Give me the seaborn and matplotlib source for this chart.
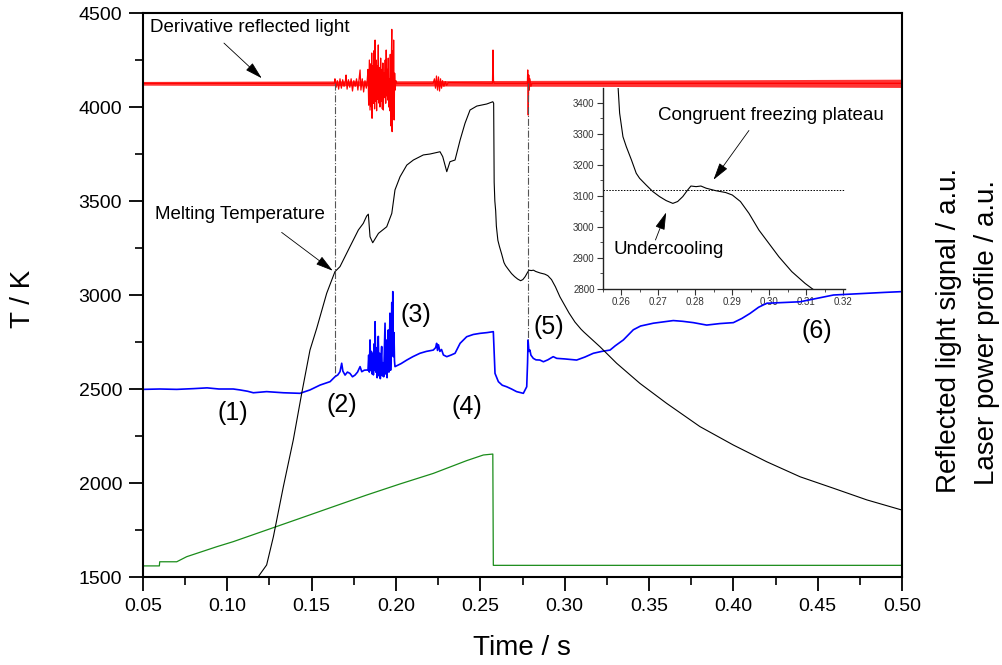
import matplotlib
matplotlib.use("Agg")
import matplotlib.pyplot as plt
import seaborn as sns
import pandas as pd
import numpy as np
from matplotlib.ticker import MultipleLocator, FormatStrFormatter

sns.set_theme(style="white")
plt.rcParams['font.family'] = ['Liberation Sans', 'DejaVu Sans']
plt.rcParams['text.color'] = 'black'

# ---------------- data ----------------
temp_t = [0.1182, 0.1233, 0.1273, 0.1332, 0.1391, 0.1441, 0.1490, 0.1530, 0.1589, 0.1638,
          0.1668, 0.1727, 0.1777, 0.1806, 0.1826, 0.1836, 0.1846, 0.1862, 0.1896, 0.1945,
          0.1975, 0.1994, 0.2024, 0.2064, 0.2103, 0.2162, 0.2202, 0.2261, 0.2277, 0.2301,
          0.2320, 0.2350, 0.2380, 0.2409, 0.2439, 0.2479, 0.2538, 0.2574, 0.2579, 0.2582,
          0.2586, 0.2591, 0.2595, 0.2604, 0.2613, 0.2627, 0.2640, 0.2649, 0.2667, 0.2685,
          0.2703, 0.2721, 0.2739, 0.2752, 0.2766, 0.2779, 0.2788, 0.2802, 0.2815, 0.2829,
          0.2855, 0.2882, 0.2900, 0.2922, 0.2945, 0.2972, 0.2999, 0.3026, 0.3061, 0.3097,
          0.3115, 0.3209, 0.3308, 0.3446, 0.3604, 0.3802, 0.4000, 0.4198, 0.4396, 0.4594,
          0.4792, 0.5000]
temp_K = [1500, 1564, 1714, 1980, 2229, 2477, 2707, 2823, 3009, 3124,
          3151, 3257, 3346, 3381, 3420, 3430, 3310, 3278, 3328, 3363,
          3434, 3559, 3629, 3691, 3718, 3745, 3750, 3762, 3736, 3656,
          3709, 3718, 3824, 3913, 3984, 4005, 4016, 4028, 4020, 3600,
          3500, 3447, 3367, 3291, 3259, 3216, 3173, 3157, 3135, 3114,
          3098, 3085, 3076, 3082, 3098, 3119, 3132, 3130, 3132, 3125,
          3117, 3111, 3103, 3082, 3044, 2990, 2947, 2904, 2856, 2818,
          2802, 2725, 2637, 2530, 2424, 2300, 2202, 2113, 2033, 1972,
          1910, 1856]

refl_t = [0.050, 0.060, 0.070, 0.080, 0.088, 0.095, 0.1035, 0.1075, 0.1120, 0.1154,
          0.1233, 0.1332, 0.1431, 0.1490, 0.1550, 0.1609, 0.1638, 0.1655, 0.1668, 0.1678,
          0.1685, 0.1698, 0.1712, 0.1727, 0.1742, 0.1757, 0.1772, 0.1787, 0.1797, 0.1812,
          0.1826, 0.1834, 0.1838, 0.1842, 0.1846, 0.1850, 0.1854, 0.1858, 0.1862, 0.1866,
          0.1870, 0.1874, 0.1876, 0.1880, 0.1884, 0.1888, 0.1892, 0.1895, 0.1899, 0.1903,
          0.1907, 0.1911, 0.1915, 0.1919, 0.1923, 0.1927, 0.1931, 0.1935, 0.1939, 0.1943,
          0.1947, 0.1951, 0.1954, 0.1958, 0.1961, 0.1964, 0.1968, 0.1972, 0.1975, 0.1978,
          0.1981, 0.1984, 0.1988, 0.1991, 0.1994, 0.2030, 0.2064, 0.2100, 0.2142, 0.2180,
          0.2221, 0.2235, 0.2241, 0.2246, 0.2252, 0.2260, 0.2270, 0.2281, 0.2301, 0.2325,
          0.2350, 0.2380, 0.2419, 0.2458, 0.2498, 0.2540, 0.2577, 0.2582, 0.2587, 0.2607,
          0.2630, 0.2656, 0.2685, 0.2715, 0.2755, 0.2775, 0.2780, 0.2783, 0.2788, 0.2794,
          0.2800, 0.2814, 0.2830, 0.2853, 0.2874, 0.2900, 0.2932, 0.2953, 0.3000, 0.3071,
          0.3120, 0.3170, 0.3220, 0.3269, 0.3300, 0.3348, 0.3407, 0.3450, 0.3526, 0.3644,
          0.3700, 0.3763, 0.3842, 0.3920, 0.4000, 0.4050, 0.4099, 0.4150, 0.4198, 0.4300,
          0.4396, 0.4495, 0.4594, 0.4700, 0.4792, 0.4900, 0.5000]
refl_v = [2498, 2500, 2498, 2502, 2506, 2500, 2500, 2495, 2488, 2480,
          2486, 2480, 2477, 2495, 2521, 2539, 2565, 2575, 2592, 2637,
          2595, 2574, 2590, 2583, 2565, 2574, 2590, 2619, 2592, 2600,
          2601, 2600, 2680, 2590, 2761, 2600, 2700, 2580, 2690, 2575,
          2740, 2600, 2858, 2590, 2720, 2560, 2700, 2780, 2570, 2690,
          2555, 2660, 2726, 2570, 2640, 2565, 2700, 2850, 2580, 2760,
          2560, 2680, 2814, 2590, 2700, 2903, 2600, 2720, 2960, 2700,
          3018, 2672, 2800, 2650, 2619, 2635, 2654, 2672, 2690, 2700,
          2707, 2720, 2743, 2705, 2735, 2700, 2710, 2681, 2672, 2680,
          2690, 2743, 2778, 2790, 2796, 2800, 2805, 2700, 2583, 2539,
          2520, 2512, 2500, 2486, 2477, 2512, 2640, 2761, 2700, 2707,
          2680, 2663, 2655, 2654, 2645, 2655, 2672, 2663, 2660, 2654,
          2670, 2690, 2700, 2707, 2730, 2761, 2815, 2835, 2850, 2864,
          2860, 2853, 2840, 2848, 2853, 2875, 2902, 2935, 2956, 2960,
          2964, 2982, 3000, 3005, 3009, 3014, 3018]

laser_t = [0.050, 0.0597, 0.0599, 0.0700, 0.0759, 0.0937, 0.1035, 0.1233, 0.1431, 0.1628,
           0.1826, 0.2024, 0.2221, 0.2419, 0.2518, 0.2574, 0.2577, 0.5000]
laser_v = [1559, 1559, 1581, 1581, 1608, 1661, 1688, 1750, 1812, 1874,
           1936, 1995, 2051, 2119, 2149, 2154, 1562, 1562]

deriv_t = [0.050, 0.1635, 0.1638, 0.1645, 0.1652, 0.1660, 0.1668, 0.1676, 0.1684, 0.1692,
           0.1700, 0.1704, 0.1710, 0.1718, 0.1726, 0.1734, 0.1742, 0.1750, 0.1758, 0.1766,
           0.1774, 0.1780, 0.1787, 0.1792, 0.1800, 0.1808, 0.1816, 0.1824, 0.1830, 0.1834,
           0.1838, 0.1842, 0.1846, 0.1850, 0.1854, 0.1856, 0.1858, 0.1862, 0.1866, 0.1870,
           0.1873, 0.1876, 0.1879, 0.1882, 0.1885, 0.1888, 0.1891, 0.1895, 0.1898, 0.1902,
           0.1905, 0.1909, 0.1912, 0.1916, 0.1919, 0.1922, 0.1925, 0.1929, 0.1932, 0.1936,
           0.1939, 0.1942, 0.1945, 0.1948, 0.1951, 0.1954, 0.1957, 0.1960, 0.1963, 0.1966,
           0.1969, 0.1972, 0.1975, 0.1977, 0.1980, 0.1983, 0.1986, 0.1989, 0.1992, 0.1995,
           0.1999, 0.2005, 0.2220, 0.2228, 0.2234, 0.2240, 0.2246, 0.2252, 0.2258, 0.2264,
           0.2270, 0.2276, 0.2284, 0.2292, 0.2300, 0.2310, 0.2572, 0.2575, 0.2578, 0.2582,
           0.2779, 0.2781, 0.2784, 0.2787, 0.2790, 0.2794, 0.2800, 0.2806, 0.5000]
deriv_v = [4126, 4126, 4150, 4105, 4140, 4095, 4150, 4100, 4145, 4110,
           4140, 4170, 4095, 4145, 4105, 4150, 4085, 4140, 4110, 4150,
           4090, 4140, 4197, 4090, 4150, 4080, 4140, 4100, 4150, 4200,
           4010, 4250, 3984, 4230, 4000, 4287, 3940, 4220, 4020, 4300,
           3990, 4356, 4030, 4250, 3980, 4220, 4040, 4330, 4021, 4210,
           4000, 4260, 4030, 4200, 3990, 4234, 3984, 4180, 4050, 4250,
           4020, 4303, 4060, 4200, 4037, 4260, 4000, 4150, 3980, 4280,
           3900, 4200, 4413, 3869, 4300, 3950, 4356, 3931, 4180, 4090,
           4140, 4126, 4126, 4150, 4100, 4165, 4090, 4160, 4085, 4150,
           4100, 4140, 4110, 4135, 4115, 4130, 4126, 4303, 4140, 4126,
           4126, 4197, 3957, 4170, 4090, 4150, 4110, 4126, 4126]
# noise band half-width of the derivative trace
band_t = [0.05, 0.30, 0.50]
band_hw = [10, 16, 22]

freeze_T = 3120
melt_t = 0.1638
freeze_t = 0.2784

labels = ["(1)", "(2)", "(3)", "(4)", "(5)", "(6)"]
label_t = [0.1034, 0.1680, 0.2119, 0.2420, 0.2907, 0.4495]
label_T = [2372, 2415, 2894, 2404, 2829, 2809]

# ---------------- figure ----------------
W, H = 1003, 665
fig = plt.figure(figsize=(W / 100, H / 100), dpi=100)
fig.patch.set_facecolor("white")
ax = fig.add_axes([143 / W, 1 - 577 / H, 759 / W, 564 / H])
ins = fig.add_axes([603 / W, 1 - 289 / H, 242 / W, 201 / H])
ax.set_zorder(2)
ins.set_zorder(1)
ax.patch.set_alpha(0)
ins.patch.set_alpha(0)

df_T = pd.DataFrame({"t": temp_t, "T": temp_K})
df_R = pd.DataFrame({"t": refl_t, "v": refl_v})
df_L = pd.DataFrame({"t": laser_t, "v": laser_v})
df_D = pd.DataFrame({"t": deriv_t, "v": deriv_v})

bt = np.array(band_t); bh = np.array(band_hw)
ax.fill_between(bt, 4126 - bh, 4126 + bh, color="#ff1010", alpha=0.85, lw=0)
sns.lineplot(data=df_D, x="t", y="v", ax=ax, color="#ff0000", lw=0.9,
             estimator=None, sort=False)
sns.lineplot(data=df_L, x="t", y="v", ax=ax, color="#1a8c1a", lw=0.9,
             estimator=None, sort=False)
sns.lineplot(data=df_R, x="t", y="v", ax=ax, color="#0000ff", lw=1.2,
             estimator=None, sort=False)
sns.lineplot(data=df_T, x="t", y="T", ax=ax, color="black", lw=0.8,
             estimator=None, sort=False)

ax.plot([melt_t, melt_t], [4126, 2565], color="#555555", lw=0.8, ls="-.")
ax.plot([freeze_t, freeze_t], [4126, 2761], color="#555555", lw=0.8, ls="-.")

ax.set_xlim(0.05, 0.50)
ax.set_ylim(1500, 4500)
ax.set_xlabel("")
ax.set_ylabel("")
ax.xaxis.set_major_locator(MultipleLocator(0.05))
ax.xaxis.set_minor_locator(MultipleLocator(0.025))
ax.xaxis.set_major_formatter(FormatStrFormatter("%.2f"))
ax.yaxis.set_major_locator(MultipleLocator(500))
ax.yaxis.set_minor_locator(MultipleLocator(250))
ax.tick_params(which="major", direction="out", length=10, width=1.3,
               labelsize=14, pad=5, colors="black", bottom=True, left=True)
ax.tick_params(which="minor", direction="out", length=6, width=1.2,
               bottom=True, left=True, colors="black")
for s in ax.spines.values():
    s.set_visible(True)
    s.set_color("black")
    s.set_linewidth(1.5)

for lab, lt, lT in zip(labels, label_t, label_T):
    ax.text(lt, lT, lab, fontsize=18, ha="center", va="center", color="black")

aprops = dict(arrowstyle="-|>,head_length=0.9,head_width=0.25", color="black",
              lw=0.6, shrinkA=0, shrinkB=0)
ax.text(0.0542, 4425, "Derivative reflected light", fontsize=13.5, va="center",
        ha="left", color="black")
ax.annotate("", xy=(0.1204, 4153), xytext=(0.0980, 4340), arrowprops=aprops)
ax.text(0.0571, 3426, "Melting Temperature", fontsize=13.5, va="center",
        ha="left", color="black")
ax.annotate("", xy=(0.1625, 3129), xytext=(0.1322, 3333), arrowprops=aprops)

# ---------------- inset ----------------
sns.lineplot(data=df_T, x="t", y="T", ax=ins, color="black", lw=0.8,
             estimator=None, sort=False)
ins.plot([0.255, 0.3205], [freeze_T, freeze_T], color="black", lw=0.7, ls=(0, (1.5, 1.5)))
ins.set_xlim(0.255, 0.3205)
ins.set_ylim(2800, 3448)
ins.set_xlabel("")
ins.set_ylabel("")
ins.xaxis.set_major_locator(MultipleLocator(0.01))
ins.xaxis.set_minor_locator(MultipleLocator(0.005))
ins.xaxis.set_major_formatter(FormatStrFormatter("%.2f"))
ins.yaxis.set_major_locator(MultipleLocator(100))
ins.yaxis.set_minor_locator(MultipleLocator(50))
ins.tick_params(which="major", direction="out", length=4, width=0.8, labelsize=7,
                pad=2, colors="#333333", bottom=True, left=True)
ins.tick_params(which="minor", direction="out", length=2, width=0.6,
                bottom=True, left=True, colors="#333333")
for side in ["top", "right"]:
    ins.spines[side].set_visible(False)
for side in ["left", "bottom"]:
    ins.spines[side].set_color("#222222")
    ins.spines[side].set_linewidth(1.0)

ins.text(0.26976, 3358, "Congruent freezing plateau", fontsize=13.5, va="center",
         ha="left", color="black")
ins.annotate("", xy=(0.2849, 3152), xytext=(0.2945, 3311), arrowprops=aprops)
ins.text(0.2579, 2926, "Undercooling", fontsize=13.5, va="center", ha="left",
         color="black")
ins.annotate("", xy=(0.2721, 3047), xytext=(0.2692, 2958), arrowprops=aprops)

# ---------------- axis titles ----------------
fig.text(23 / W, 1 - 299 / H, "T / K", rotation=90, fontsize=20, ha="center",
         va="center", color="black")
fig.text(522 / W, 1 - 648 / H, "Time / s", fontsize=20, ha="center", va="center",
         color="black")
fig.text(949 / W, 1 - 330 / H, "Reflected light signal / a.u.", rotation=90,
         fontsize=20, ha="center", va="center", color="black")
fig.text(987 / W, 1 - 332 / H, "Laser power profile / a.u.", rotation=90,
         fontsize=20, ha="center", va="center", color="black")

fig.savefig("out.png", dpi=100, facecolor="white")
